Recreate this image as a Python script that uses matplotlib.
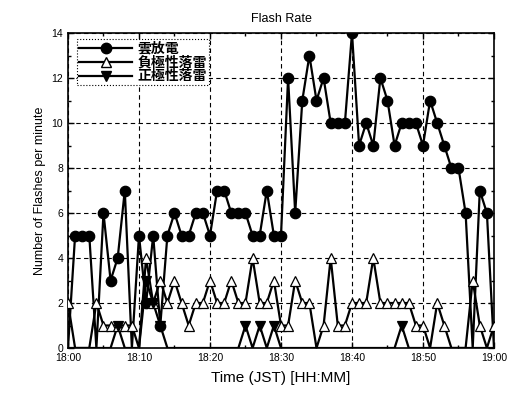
import numpy as np
import matplotlib
matplotlib.use("Agg")
import matplotlib.pyplot as plt
from matplotlib.ticker import MultipleLocator

plt.rcParams['font.family'] = ['Liberation Sans', 'Noto Sans CJK JP', 'DejaVu Sans']

# minutes after 18:00
minutes = np.arange(0, 61)

cloud = [0, 5, 5, 5, 0, 6, 3, 4, 7, 0,
         5, 2, 5, 1, 5, 6, 5, 5, 6, 6,
         5, 7, 7, 6, 6, 6, 5, 5, 7, 5,
         5, 12, 6, 11, 13, 11, 12, 10, 10, 10,
         14, 9, 10, 9, 12, 11, 9, 10, 10, 10,
         9, 11, 10, 9, 8, 8, 6, 0, 7, 6,
         0]
negative = [2, 0, 0, 0, 2, 1, 1, 1, 1, 1,
            0, 4, 2, 3, 2, 3, 2, 1, 2, 2,
            3, 2, 2, 3, 2, 2, 4, 2, 2, 3,
            1, 1, 3, 2, 2, 0, 1, 4, 1, 1,
            2, 2, 2, 4, 2, 2, 2, 2, 2, 1,
            1, 0, 2, 1, 0, 0, 0, 3, 1, 0,
            1]
positive = [0, 0, 0, 0, 0, 0, 0, 1, 0, 0,
            0, 3, 2, 1, 0, 0, 0, 0, 0, 0,
            0, 0, 0, 0, 0, 1, 0, 1, 0, 1,
            0, 0, 0, 0, 0, 0, 0, 0, 0, 0,
            0, 0, 0, 0, 0, 0, 0, 1, 0, 0,
            0, 0, 0, 0, 0, 0, 0, 0, 0, 0,
            0]

xticks = [0, 10, 20, 30, 40, 50, 60]
xlabels = ['18:00', '18:10', '18:20', '18:30', '18:40', '18:50', '19:00']

fig = plt.figure(figsize=(5.17, 4.0), dpi=100)
ax = fig.add_axes([0.1315, 0.13, 0.824, 0.7875])

def draw(vals, marker, face, label, ms):
    v = np.array(vals, dtype=float)
    ax.plot(minutes, v, '-', color='black', lw=1.6, zorder=3)
    # markers at zero sit under the axis line and are not shown
    m = np.where(v > 0, v, np.nan)
    ax.plot(minutes, m, linestyle='none', marker=marker, ms=ms,
            mfc=face, mec='black', mew=0.9, zorder=4)
    ax.plot([], [], '-', color='black', lw=1.6, marker=marker, ms=ms,
            mfc=face, mec='black', label=label)

draw(cloud, 'o', 'black', '雲放電', 7.5)
draw(negative, '^', 'white', '負極性落雷', 7.5)
draw(positive, 'v', 'black', '正極性落雷', 7.5)

ax.set_xlim(0, 60)
ax.set_ylim(0, 14)
ax.set_xticks(xticks)
ax.set_xticklabels(xlabels)
ax.xaxis.set_minor_locator(MultipleLocator(5))
ax.yaxis.set_major_locator(MultipleLocator(2))
ax.yaxis.set_minor_locator(MultipleLocator(1))
ax.tick_params(which='both', direction='in', top=True, right=True,
               labelsize=7.5, width=1)
ax.tick_params(which='major', length=4)
ax.tick_params(which='minor', length=2.5)
ax.grid(True, which='major', color='black', linestyle=(0, (4, 3)), lw=0.8)
for s in ax.spines.values():
    s.set_linewidth(1.2)

ax.set_title('Flash Rate', fontsize=9, pad=8)
ax.set_xlabel('Time (JST) [HH:MM]', fontsize=11, labelpad=6)
ax.set_ylabel('Number of Flashes per minute', fontsize=9)

leg = ax.legend(loc='upper left', bbox_to_anchor=(0.022, 0.98),
                prop={'family': ['Noto Sans CJK JP'], 'size': 10, 'weight': 'bold'},
                frameon=True, fancybox=False, borderpad=0.15, labelspacing=0.0,
                handlelength=3.8, handletextpad=0.4, framealpha=1,
                borderaxespad=0)
leg.get_frame().set_edgecolor('black')
leg.get_frame().set_linestyle(':')
leg.get_frame().set_linewidth(0.8)

fig.savefig('out.png', dpi=100)
